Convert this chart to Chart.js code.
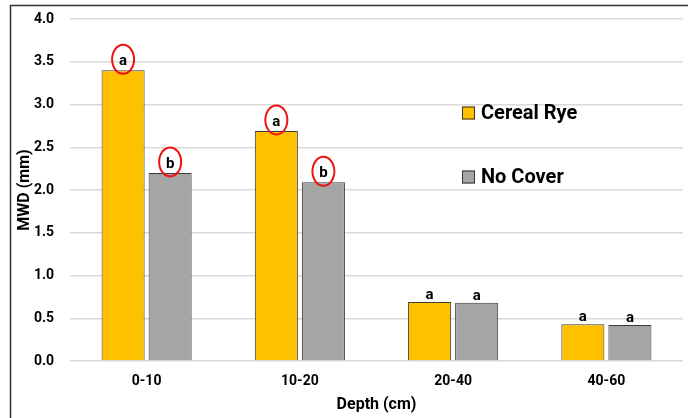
<!DOCTYPE html>
<html>
<head>
<meta charset="utf-8">
<script src="https://cdn.jsdelivr.net/npm/chart.js@4/dist/chart.umd.min.js"></script>
<style>
html,body{margin:0;padding:0;background:#fff;}
#wrap{position:relative;width:688px;height:418px;}
</style>
</head>
<body>
<div id="wrap"><canvas id="c" width="688" height="418"></canvas></div>
<script>
const categories = ['0-10', '10-20', '20-40', '40-60'];
const seriesNames = ['Cereal Rye', 'No Cover'];
const cerealRye = [3.40, 2.69, 0.69, 0.43];
const noCover = [2.20, 2.09, 0.68, 0.42];
const ryeLetters = ['a', 'a', 'a', 'a'];
const noCoverLetters = ['b', 'b', 'a', 'a'];
const circled = [true, true, false, false];
const yTicks = [0, 0.5, 1.0, 1.5, 2.0, 2.5, 3.0, 3.5, 4.0];

const FONT = 'Roboto, "Open Sans", sans-serif';

const framePlugin = {
  id: 'frame',
  beforeDraw(chart) {
    const ctx = chart.ctx;
    ctx.save();
    ctx.strokeStyle = '#333';
    ctx.lineWidth = 1.5;
    ctx.beginPath();
    ctx.moveTo(688, 5.5);
    ctx.lineTo(10.5, 5.5);
    ctx.lineTo(10.5, 418);
    ctx.stroke();
    ctx.restore();
  }
};

const letterPlugin = {
  id: 'letters',
  afterDatasetsDraw(chart) {
    const ctx = chart.ctx;
    const sets = [ryeLetters, noCoverLetters];
    ctx.save();
    ctx.font = 'bold 15px ' + FONT;
    ctx.textAlign = 'center';
    ctx.textBaseline = 'alphabetic';
    sets.forEach((letters, di) => {
      const meta = chart.getDatasetMeta(di);
      meta.data.forEach((bar, i) => {
        const x = bar.x, top = bar.y;
        ctx.fillStyle = '#000';
        if (circled[i]) {
          ctx.fillText(letters[i], x, top - 5);
          ctx.strokeStyle = '#ee1111';
          ctx.lineWidth = 2;
          ctx.beginPath();
          ctx.ellipse(x, top - 11, 11, 14.5, 0, 0, Math.PI * 2);
          ctx.stroke();
        } else {
          ctx.fillText(letters[i], x, top - 3);
        }
      });
    });
    ctx.restore();
  }
};

const legendPlugin = {
  id: 'customLegend',
  afterDraw(chart) {
    const ctx = chart.ctx;
    const opts = chart.options.plugins.customLegend;
    ctx.save();
    ctx.font = 'bold 20px ' + FONT;
    ctx.textBaseline = 'middle';
    ctx.textAlign = 'left';
    chart.data.datasets.forEach((ds, i) => {
      const cy = opts.y + i * opts.gap;
      ctx.fillStyle = ds.backgroundColor;
      ctx.fillRect(opts.x, cy - 6.5, 13, 13);
      ctx.strokeStyle = '#333';
      ctx.lineWidth = 1;
      ctx.strokeRect(opts.x + 0.5, cy - 6, 12, 12);
      ctx.fillStyle = '#000';
      ctx.fillText(ds.label, opts.x + 19, cy + 1);
    });
    ctx.restore();
  }
};

new Chart(document.getElementById('c'), {
  type: 'bar',
  data: {
    labels: categories,
    datasets: [
      { label: seriesNames[0], data: cerealRye, backgroundColor: '#FFC000', borderColor: '#3a3a3a', borderWidth: 1 },
      { label: seriesNames[1], data: noCover, backgroundColor: '#A5A5A5', borderColor: '#3a3a3a', borderWidth: 1 }
    ]
  },
  options: {
    responsive: false,
    animation: false,
    devicePixelRatio: 1,
    layout: { padding: { left: 0, right: 5, top: 19, bottom: 0 } },
    datasets: { bar: { categoryPercentage: 0.614, barPercentage: 0.915 } },
    plugins: {
      legend: { display: false },
      tooltip: { enabled: false },
      customLegend: { x: 462, y: 113, gap: 64 }
    },
    scales: {
      x: {
        grid: { display: false, drawTicks: false },
        border: { display: false },
        ticks: { font: { family: FONT, size: 14, weight: 'bold' }, color: '#000', padding: 12 },
        title: { display: true, text: 'Depth (cm)', font: { family: FONT, size: 16, weight: 'bold' }, color: '#000', padding: { top: 0, bottom: 3 } },
        afterFit(scale) { scale.height = 57; }
      },
      y: {
        min: 0, max: 4,
        afterBuildTicks(scale) { scale.ticks = yTicks.map(v => ({ value: v })); },
        grid: { color: '#d9d9d9', lineWidth: 1.5, drawTicks: false },
        border: { display: false },
        ticks: { font: { family: FONT, size: 14, weight: 'bold' }, color: '#000', padding: 16, callback: v => Number(v).toFixed(1) },
        title: { display: true, text: 'MWD (mm)', font: { family: FONT, size: 16, weight: 'bold' }, color: '#000', padding: { top: 15, bottom: 0 } },
        afterFit(scale) { scale.width = 70; scale.paddingTop = 0; scale.paddingBottom = 0; }
      }
    }
  },
  plugins: [framePlugin, letterPlugin, legendPlugin]
});
</script>
</body>
</html>
